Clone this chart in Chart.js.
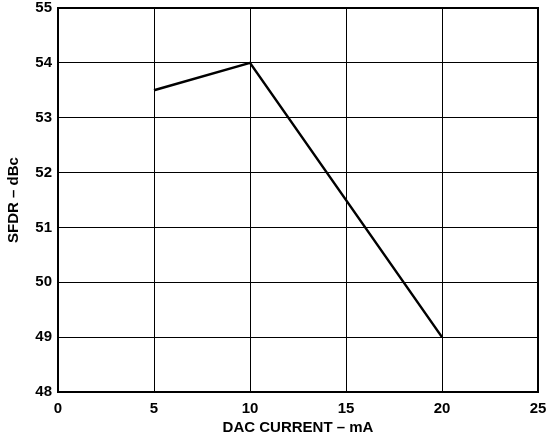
<!DOCTYPE html>
<html>
<head>
<meta charset="utf-8">
<script src="https://cdn.jsdelivr.net/npm/chart.js@4.4.1/dist/chart.umd.min.js"></script>
<style>
  html, body { margin: 0; padding: 0; background: #fff; }
  #wrap { width: 549px; height: 440px; }
</style>
</head>
<body>
<div id="wrap"><canvas id="grafica"></canvas></div>
<script>
// valores
const corrienteDAC = [5, 10, 20];
const sfdr = [53.5, 54, 49];
const ticksX = [0, 5, 10, 15, 20, 25];
const ticksY = [48, 49, 50, 51, 52, 53, 54, 55];

const fuente = 'Liberation Sans, Arial, Helvetica, sans-serif';

// marco grueso alrededor del area de trazado
const marco = {
    id: 'marco',
    afterDraw(chart) {
        const a = chart.chartArea;
        const ctx = chart.ctx;
        ctx.save();
        ctx.strokeStyle = '#000';
        ctx.lineWidth = 2;
        ctx.strokeRect(a.left, a.top, a.right - a.left, a.bottom - a.top);
        ctx.restore();
    }
};

const ctx = document.getElementById('grafica').getContext('2d');

new Chart(ctx, {
    type: 'scatter',
    data: {
        datasets: [{
            data: corrienteDAC.map((x, i) => ({ x: x, y: sfdr[i] })),
            showLine: true,
            borderColor: '#000',
            borderWidth: 2.5,
            pointRadius: 0,
            tension: 0
        }]
    },
    options: {
        responsive: true,
        maintainAspectRatio: false,
        animation: false,
        layout: { padding: { left: 0, right: 11, top: 8, bottom: 0 } },
        plugins: {
            legend: { display: false },
            tooltip: { enabled: false }
        },
        scales: {
            x: {
                type: 'linear',
                min: ticksX[0],
                max: ticksX[ticksX.length - 1],
                afterBuildTicks: s => { s.ticks = ticksX.map(v => ({ value: v })); },
                afterFit: s => {
                    s.height = 48;
                    s.paddingRight = 0;
                    s.paddingLeft = 0;
                },
                grid: { color: '#000', lineWidth: 1, drawTicks: false },
                border: { display: false },
                ticks: {
                    color: '#000',
                    padding: 8,
                    maxRotation: 0,
                    font: { family: fuente, size: 15, weight: 'bold' }
                },
                title: {
                    display: true,
                    text: 'DAC CURRENT – mA',
                    color: '#000',
                    padding: { top: 0, bottom: 3 },
                    font: { family: fuente, size: 15, weight: 'bold' }
                }
            },
            y: {
                min: ticksY[0],
                max: ticksY[ticksY.length - 1],
                afterBuildTicks: s => { s.ticks = ticksY.map(v => ({ value: v })); },
                afterFit: s => {
                    s.width = 58;
                    s.paddingTop = 0;
                    s.paddingBottom = 0;
                },
                grid: { color: '#000', lineWidth: 1, drawTicks: false },
                border: { display: false },
                ticks: {
                    color: '#000',
                    padding: 6,
                    font: { family: fuente, size: 15, weight: 'bold' }
                },
                title: {
                    display: true,
                    text: 'SFDR – dBc',
                    color: '#000',
                    padding: { top: 5, bottom: 2 },
                    font: { family: fuente, size: 15, weight: 'bold' }
                }
            }
        }
    },
    plugins: [marco]
});
</script>
</body>
</html>
